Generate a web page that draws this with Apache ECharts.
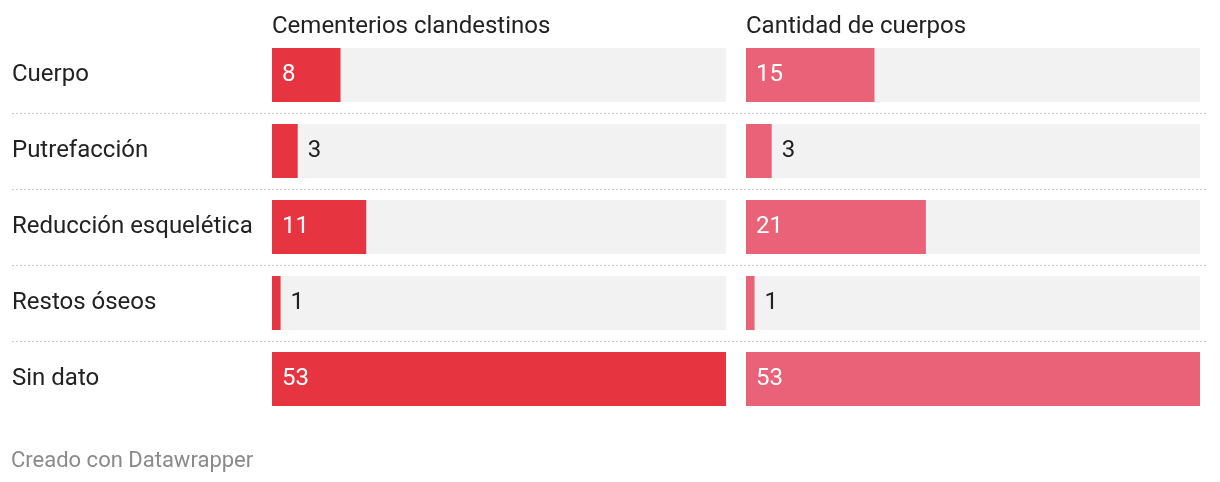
<!DOCTYPE html>
<html>
<head>
<meta charset="utf-8">
<script src="https://cdn.jsdelivr.net/npm/echarts@6/dist/echarts.min.js"></script>
<style>
html,body{margin:0;padding:0;background:#fff;}
#chart{width:1220px;height:482px;}
</style>
</head>
<body>
<div id="chart"></div>
<script>
const categories = ["Cuerpo", "Putrefacción", "Reducción esquelética", "Restos óseos", "Sin dato"];
const cementerios = [8, 3, 11, 1, 53];
const cuerpos = [15, 3, 21, 1, 53];
const panelTitles = ["Cementerios clandestinos", "Cantidad de cuerpos"];
const footer = "Creado con Datawrapper";
const maxValue = 53;

const FONT = "Roboto";
const chart = echarts.init(document.getElementById('chart'), null, {renderer: 'canvas'});

function makeData(values, threshold) {
  return values.map(v => {
    const inside = v >= threshold;
    return {
      value: v,
      label: inside
        ? {position: 'insideLeft', color: '#ffffff', distance: 10}
        : {position: 'right', color: '#222222', distance: 10}
    };
  });
}

const gridTop = 37, gridHeight = 380;

const option = {
  animation: false,
  textStyle: {fontFamily: FONT},
  title: [
    {text: panelTitles[0], left: 267, top: 10, textStyle: {fontFamily: FONT, fontSize: 24, fontWeight: 'normal', color: '#222'}},
    {text: panelTitles[1], left: 741, top: 10, textStyle: {fontFamily: FONT, fontSize: 24, fontWeight: 'normal', color: '#222'}},
    {text: footer, left: 6, top: 445, textStyle: {fontFamily: FONT, fontSize: 22, fontWeight: 'normal', color: '#8a8a8a'}}
  ],
  grid: [
    {left: 272, width: 454, top: gridTop, height: gridHeight},
    {left: 746, width: 454, top: gridTop, height: gridHeight},
    {left: 12, width: 1196, top: gridTop, height: gridHeight}
  ],
  xAxis: [
    {gridIndex: 0, type: 'value', min: 0, max: maxValue, show: false},
    {gridIndex: 1, type: 'value', min: 0, max: maxValue, show: false},
    {gridIndex: 2, type: 'value', min: 0, max: 1, show: false}
  ],
  yAxis: [
    {gridIndex: 0, type: 'category', data: categories, inverse: true,
     axisLine: {show: false}, axisTick: {show: false}, splitLine: {show: false},
     axisLabel: {align: 'left', margin: 260, padding: [2, 0, 0, 0], fontFamily: FONT, fontSize: 24, color: '#222'}},
    {gridIndex: 1, type: 'category', data: categories, inverse: true,
     axisLine: {show: false}, axisTick: {show: false}, splitLine: {show: false}, axisLabel: {show: false}},
    {gridIndex: 2, type: 'value', min: 0, max: categories.length, interval: 1,
     axisLine: {show: false}, axisTick: {show: false}, axisLabel: {show: false},
     splitLine: {show: true, showMinLine: false, showMaxLine: false,
       lineStyle: {color: '#cccccc', width: 1, type: [2, 2]}}}
  ],
  series: [
    {type: 'bar', xAxisIndex: 0, yAxisIndex: 0, barWidth: 54, data: makeData(cementerios, 5),
     itemStyle: {color: '#e63541'}, showBackground: true, backgroundStyle: {color: '#f2f2f2'},
     label: {show: true, fontFamily: FONT, fontSize: 24}},
    {type: 'bar', xAxisIndex: 1, yAxisIndex: 1, barWidth: 54, data: makeData(cuerpos, 5),
     itemStyle: {color: '#e96277'}, showBackground: true, backgroundStyle: {color: '#f2f2f2'},
     label: {show: true, fontFamily: FONT, fontSize: 24}}
  ]
};
chart.setOption(option);
</script>
</body>
</html>
